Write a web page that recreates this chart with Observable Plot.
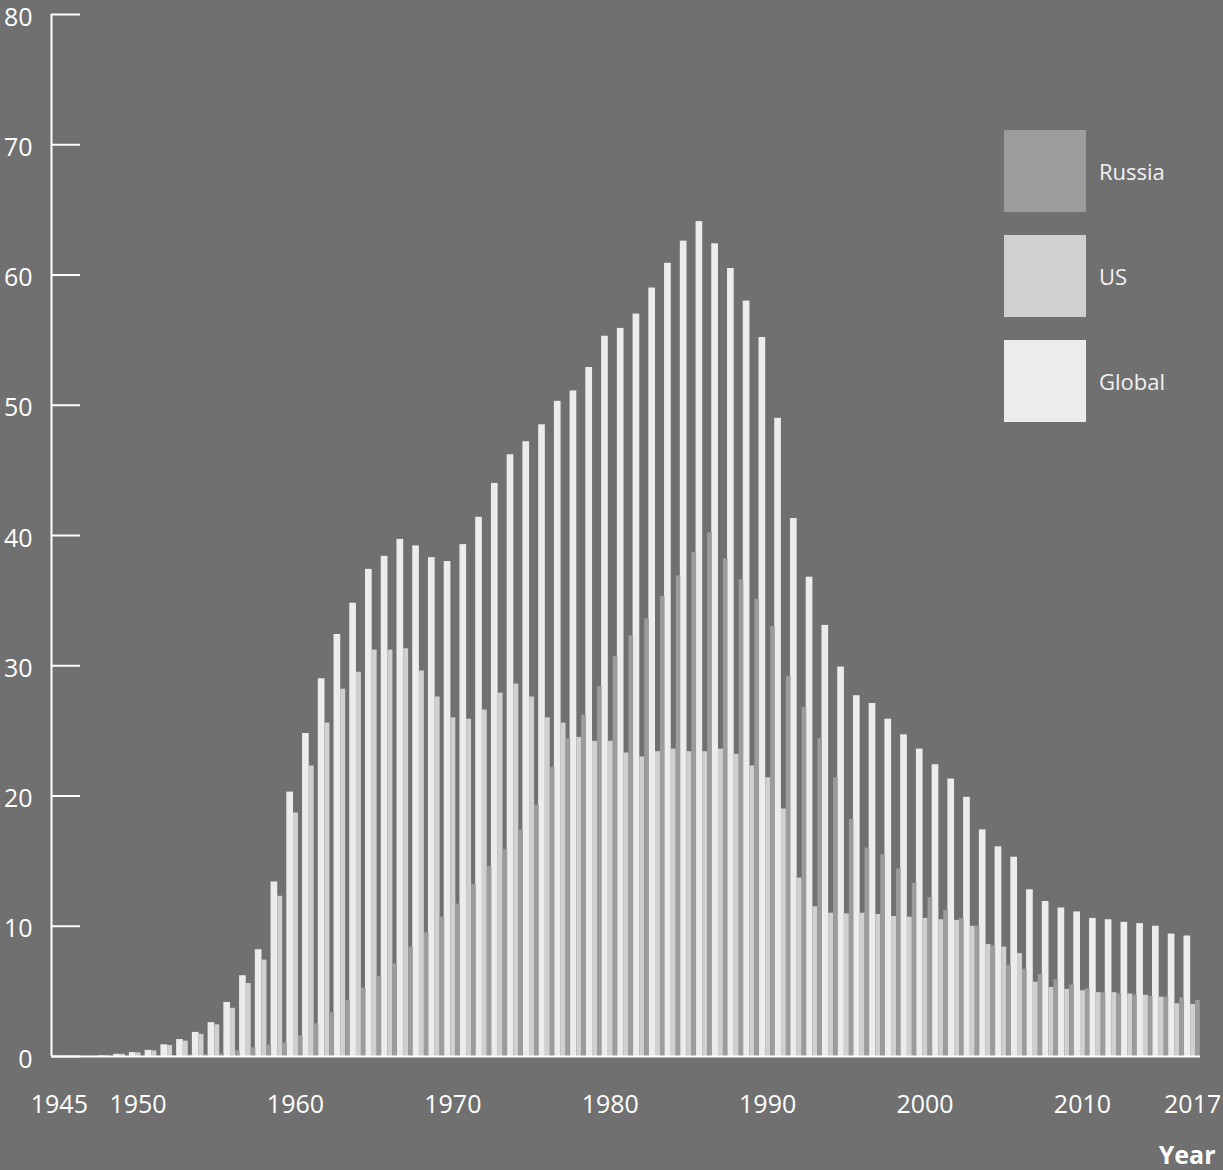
<!DOCTYPE html>
<html><head><meta charset="utf-8">
<script src="https://cdn.jsdelivr.net/npm/d3@7"></script>
<script src="https://cdn.jsdelivr.net/npm/@observablehq/plot@0.6"></script>
<style>
html,body{margin:0;padding:0;background:#707070;}
#wrap{position:relative;width:1223px;height:1170px;font-family:"Open Sans",sans-serif;}
#legend{position:absolute;left:1004px;top:130px;}
.item{display:flex;align-items:center;height:82px;margin-bottom:23px;}
.sw{width:82px;height:82px;}
.lab{margin-left:13px;font-size:22px;color:#f2f2f2;}
</style></head><body><div id="wrap"><div id="legend"></div></div>
<script>
// ---- data (thousands of warheads) ----
const years = d3.range(1945, 2018);
const globalVals = [0.002,0.009,0.013,0.05,0.17,0.3,0.47,0.9,1.3,1.85,2.6,4.15,6.2,8.2,13.4,20.3,24.8,29.0,32.4,34.8,37.4,38.4,39.7,39.2,38.3,38.0,39.3,41.4,44.0,46.2,47.2,48.5,50.3,51.1,52.9,55.3,55.9,57.0,59.0,60.9,62.6,64.1,62.4,60.5,58.0,55.2,49.0,41.3,36.8,33.1,29.9,27.7,27.1,25.9,24.7,23.6,22.4,21.3,19.9,17.4,16.1,15.3,12.8,11.9,11.4,11.1,10.6,10.5,10.3,10.2,10.0,9.4,9.25];
const usVals = [0.002,0.009,0.013,0.05,0.17,0.28,0.43,0.85,1.18,1.7,2.43,3.7,5.6,7.4,12.3,18.7,22.3,25.6,28.2,29.5,31.2,31.2,31.3,29.6,27.6,26.0,25.9,26.6,27.9,28.6,27.6,26.0,25.6,24.5,24.2,24.2,23.3,23.0,23.4,23.6,23.4,23.4,23.6,23.2,22.3,21.4,19.0,13.7,11.5,11.0,10.95,11.0,10.9,10.75,10.7,10.6,10.5,10.45,10.0,8.6,8.4,7.9,5.7,5.3,5.15,5.05,4.9,4.9,4.8,4.7,4.55,4.05,4.0];
const russiaVals = [0,0,0,0,0.001,0.005,0.025,0.05,0.12,0.15,0.2,0.43,0.66,0.87,1.05,1.6,2.5,3.35,4.3,5.25,6.15,7.1,8.4,9.5,10.7,11.7,13.2,14.6,15.9,17.4,19.3,22.2,24.4,26.2,28.4,30.7,32.3,33.6,35.3,36.9,38.7,40.2,38.2,36.6,35.1,33.0,29.2,26.8,24.4,21.4,18.2,16.0,15.5,14.4,13.3,12.2,11.2,10.6,10.0,8.5,7.0,6.7,6.3,5.9,5.5,5.2,4.9,4.8,4.7,4.6,4.55,4.5,4.3];
const seriesNames = ["Russia", "US", "Global"];
const tickYears = [1945, 1950, 1960, 1970, 1980, 1990, 2000, 2010, 2017];
const yTicks = [0, 10, 20, 30, 40, 50, 60, 70, 80];

// ---- styling / layout ----
const seriesColors = ["#9c9c9c", "#d0d0d0", "#ececec"];
const slot = {Global: [-0.05, 0.375], US: [0.375, 0.69], Russia: [0.69, 0.985]};
const valuesBySeries = {Global: globalVals, US: usVals, Russia: russiaVals};

const rows = [];
for (const s of ["Global", "US", "Russia"]) {
  years.forEach((yr, i) => rows.push({series: s, year: yr, value: valuesBySeries[s][i],
    x1: yr + slot[s][0], x2: yr + slot[s][1]}));
}

const chart = Plot.plot({
  width: 1223, height: 1170,
  marginLeft: 51, marginRight: 23, marginTop: 14, marginBottom: 114,
  style: {background: "#707070", color: "#fff", fontFamily: "'Open Sans', sans-serif", fontSize: "25px"},
  x: {domain: [1945, 2018]},
  y: {domain: [0, 80]},
  color: {domain: seriesNames, range: seriesColors},
  marks: [
    Plot.rectY(rows, {x1: "x1", x2: "x2", y: "value", fill: "series"}),
    Plot.ruleY([0], {stroke: "#fff", strokeWidth: 2}),
    Plot.ruleX([1945], {y1: 0, y2: 80, stroke: "#fff", strokeWidth: 2}),
    Plot.axisY(yTicks, {anchor: "left", tickSize: 29, dx: 29, tickFormat: () => "", strokeWidth: 2, color: "#fff", label: null}),
    Plot.axisY(yTicks, {anchor: "left", tickSize: 0, tickPadding: 19, dy: 3, fontSize: 25, color: "#fff", label: null}),
    Plot.axisX(tickYears.map(y => y + 0.5), {anchor: "bottom", tickSize: 0, tickPadding: 39, fontSize: 25, color: "#fff", label: null, tickFormat: d => String(Math.floor(d))}),
    Plot.text(["Year"], {frameAnchor: "bottom-right", textAnchor: "end", lineAnchor: "middle", dx: 15, dy: 99, fontWeight: "bold", fontSize: 25, fill: "#fff"})
  ]
});
document.getElementById("wrap").prepend(chart);

const legend = document.getElementById("legend");
seriesNames.forEach((name, i) => {
  const item = document.createElement("div");
  item.className = "item";
  const sw = document.createElement("div");
  sw.className = "sw";
  sw.style.background = seriesColors[i];
  const lab = document.createElement("div");
  lab.className = "lab";
  lab.textContent = name;
  item.append(sw, lab);
  legend.append(item);
});
</script></body></html>
